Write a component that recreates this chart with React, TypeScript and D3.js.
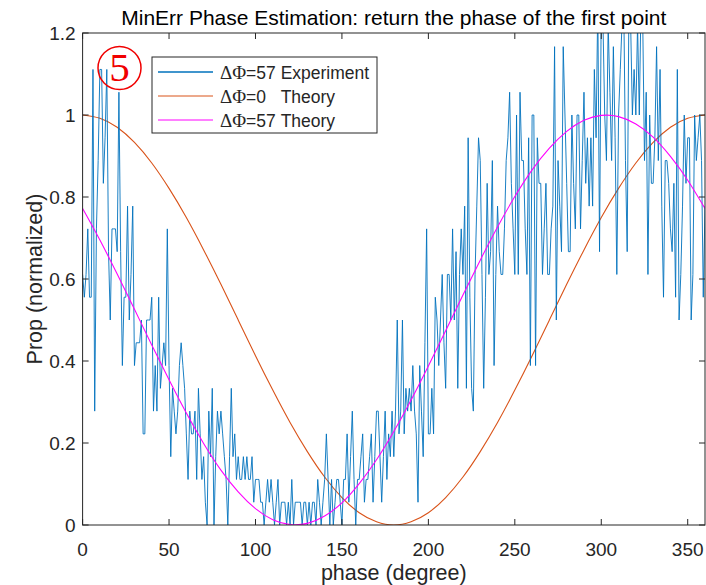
import React from "react";
import * as d3 from "d3";

const W = 706;
const H = 585;
const M = { left: 82.6, right: 705, top: 33, bottom: 525 };

const title = "MinErr Phase Estimation: return the phase of the first point";
const xLabel = "phase (degree)";
const yLabel = "Prop (normalized)";
const xTicks = [0, 50, 100, 150, 200, 250, 300, 350];
const yTicks = [0, 0.2, 0.4, 0.6, 0.8, 1, 1.2];

// Experiment: counts per degree (0..360), normalized by 18
const NORM = 18;
const expCounts = [
  11, 10, 11, 13, 10, 10, 20, 5, 13, 16, 20, 20, 15, 17, 20, 12, 9, 13, 13, 13,
  12, 19, 12, 7, 10, 10, 14, 9, 11, 14, 7, 8, 8, 8, 9, 4, 4, 9, 9, 9,
  10, 5, 7, 5, 10, 6, 7, 8, 7, 13, 7, 3, 6, 5, 4, 5, 7, 8, 7, 6,
  4, 2, 5, 4, 4, 5, 2, 6, 4, 2, 3, 1, 0, 5, 3, 6, 0, 3, 5, 4,
  5, 4, 3, 2, 0, 3, 6, 3, 4, 2, 3, 2, 2, 3, 2, 3, 2, 2, 3, 1,
  2, 2, 2, 1, 1, 0, 1, 2, 1, 2, 1, 0, 1, 2, 0, 1, 1, 1, 0, 1,
  0, 2, 0, 1, 1, 1, 1, 0, 1, 1, 0, 1, 0, 1, 1, 0, 2, 1, 0, 1,
  2, 4, 2, 0, 2, 0, 1, 2, 2, 1, 0, 2, 2, 4, 1, 3, 5, 2, 0, 2,
  2, 3, 4, 1, 2, 2, 3, 4, 1, 3, 5, 5, 3, 1, 3, 5, 2, 4, 3, 5,
  3, 5, 9, 4, 5, 9, 4, 6, 5, 6, 5, 7, 5, 4, 1, 7, 5, 3, 8, 13,
  4, 4, 6, 4, 10, 9, 7, 9, 11, 8, 6, 11, 11, 9, 13, 9, 12, 6, 11, 13,
  11, 14, 6, 17, 10, 6, 5, 11, 14, 17, 16, 11, 6, 10, 15, 11, 12, 16, 7, 11,
  14, 12, 11, 11, 13, 16, 17, 19, 15, 13, 11, 18, 11, 19, 16, 16, 13, 11, 17, 7,
  18, 18, 7, 17, 15, 15, 11, 13, 15, 11, 11, 13, 14, 21, 9, 16, 14, 12, 21, 18,
  15, 12, 12, 18, 15, 13, 18, 18, 13, 16, 19, 15, 17, 14, 17, 14, 20, 17, 23, 12,
  23, 22, 18, 16, 22, 19, 16, 21, 17, 11, 18, 20, 22, 23, 16, 12, 23, 22, 18, 20,
  18, 22, 18, 23, 22, 16, 19, 11, 18, 15, 15, 17, 21, 16, 20, 14, 10, 16, 16, 15,
  13, 12, 15, 10, 20, 9, 11, 14, 18, 15, 17, 17, 9, 11, 18, 16, 17, 18, 16, 10,
  14,
];

// Theory curves sampled every 10 degrees (0..360)
const theoryPhase = [
  0, 10, 20, 30, 40, 50, 60, 70, 80, 90, 100, 110, 120, 130, 140, 150, 160, 170, 180,
  190, 200, 210, 220, 230, 240, 250, 260, 270, 280, 290, 300, 310, 320, 330, 340, 350, 360,
];
const theory0 = [
  1, 0.992, 0.97, 0.933, 0.883, 0.821, 0.75, 0.671, 0.587, 0.5, 0.413, 0.329, 0.25, 0.179,
  0.117, 0.067, 0.03, 0.008, 0, 0.008, 0.03, 0.067, 0.117, 0.179, 0.25, 0.329, 0.413, 0.5,
  0.587, 0.671, 0.75, 0.821, 0.883, 0.933, 0.97, 0.992, 1,
];
const theory57 = [
  0.772, 0.695, 0.612, 0.526, 0.439, 0.354, 0.273, 0.199, 0.134, 0.081, 0.04, 0.013, 0.001,
  0.004, 0.022, 0.054, 0.101, 0.159, 0.228, 0.305, 0.388, 0.474, 0.561, 0.646, 0.727, 0.801,
  0.866, 0.919, 0.96, 0.987, 0.999, 0.996, 0.978, 0.946, 0.899, 0.841, 0.772,
];

const legendItems = [
  { label: "=57 Experiment", color: "#0072BD", width: 1.3 },
  { label: "=0\u00a0\u00a0\u00a0Theory", color: "#D95319", width: 1 },
  { label: "=57 Theory", color: "#FF00FF", width: 1 },
];

const AX = "#262626";
const FONT = "Arial, 'Liberation Sans', Helvetica, sans-serif";
const SERIF = "'Liberation Serif', 'DejaVu Serif', serif";

export default function App() {
  const x = d3.scaleLinear().domain([0, 360]).range([M.left, M.right]);
  const y = d3.scaleLinear().domain([0, 1.2]).range([M.bottom, M.top]);

  const expLine = d3
    .line<number>()
    .x((_, i) => x(i))
    .y((d) => y(d / NORM));
  const theoryLine = d3
    .line<number>()
    .x((_, i) => x(theoryPhase[i]))
    .y((d) => y(d))
    .curve(d3.curveNatural);

  const tickLen = 6;

  return (
    <svg
      width={W}
      height={H}
      style={{ position: "absolute", left: 0, top: 0, background: "#fff" }}
      fontFamily={FONT}
    >
      <defs>
        <clipPath id="plotclip">
          <rect x={M.left} y={M.top} width={M.right - M.left} height={M.bottom - M.top} />
        </clipPath>
      </defs>
      <rect x={0} y={0} width={W} height={H} fill="#fff" />

      <g clipPath="url(#plotclip)">
        <path d={theoryLine(theory0) || ""} fill="none" stroke="#D95319" strokeWidth={1.1} />
        <path d={expLine(expCounts) || ""} fill="none" stroke="#0072BD" strokeWidth={0.9} />
        <path d={theoryLine(theory57) || ""} fill="none" stroke="#FF00FF" strokeWidth={1.1} />
      </g>

      {/* axes box */}
      <rect
        x={M.left}
        y={M.top}
        width={M.right - M.left}
        height={M.bottom - M.top}
        fill="none"
        stroke={AX}
        strokeWidth={1}
      />

      {/* x ticks */}
      {xTicks.map((t) => (
        <g key={"xt" + t}>
          <line x1={x(t)} x2={x(t)} y1={M.bottom} y2={M.bottom - tickLen} stroke={AX} />
          <line x1={x(t)} x2={x(t)} y1={M.top} y2={M.top + tickLen} stroke={AX} />
          <text x={x(t)} y={M.bottom + 31} textAnchor="middle" fontSize={19} fill={AX}>
            {t}
          </text>
        </g>
      ))}
      {/* y ticks */}
      {yTicks.map((t) => (
        <g key={"yt" + t}>
          <line x1={M.left} x2={M.left + tickLen} y1={y(t)} y2={y(t)} stroke={AX} />
          <line x1={M.right} x2={M.right - tickLen} y1={y(t)} y2={y(t)} stroke={AX} />
          <text x={M.left - 7} y={y(t) + 7} textAnchor="end" fontSize={19} fill={AX}>
            {String(t)}
          </text>
        </g>
      ))}

      <text x={(M.left + M.right) / 2} y={25} textAnchor="middle" fontSize={21} fill="#000">
        {title}
      </text>
      <text x={(M.left + M.right) / 2} y={580} textAnchor="middle" fontSize={21.5} fill={AX}>
        {xLabel}
      </text>
      <text
        transform={`translate(42, ${(M.top + M.bottom) / 2}) rotate(-90)`}
        textAnchor="middle"
        fontSize={21.5}
        fill={AX}
      >
        {yLabel}
      </text>

      {/* circled 5 */}
      <circle cx={119.5} cy={68} r={21.5} fill="none" stroke="#F00000" strokeWidth={1.5} />
      <text x={119.5} y={81} textAnchor="middle" fontSize={41} fontFamily={SERIF} fill="#F00000">
        5
      </text>

      {/* legend */}
      <rect x={152} y={57} width={225} height={76} fill="#fff" stroke={AX} strokeWidth={1} />
      {legendItems.map((it, i) => {
        const cy = 72 + i * 24;
        return (
          <g key={"lg" + i}>
            <line x1={158} x2={213} y1={cy} y2={cy} stroke={it.color} strokeWidth={it.width} />
            <text x={220} y={cy + 6.5} fontSize={17.5} fill={AX}>
              <tspan fontFamily={SERIF} fontSize={19}>
                ΔΦ
              </tspan>
              {it.label}
            </text>
          </g>
        );
      })}
    </svg>
  );
}
